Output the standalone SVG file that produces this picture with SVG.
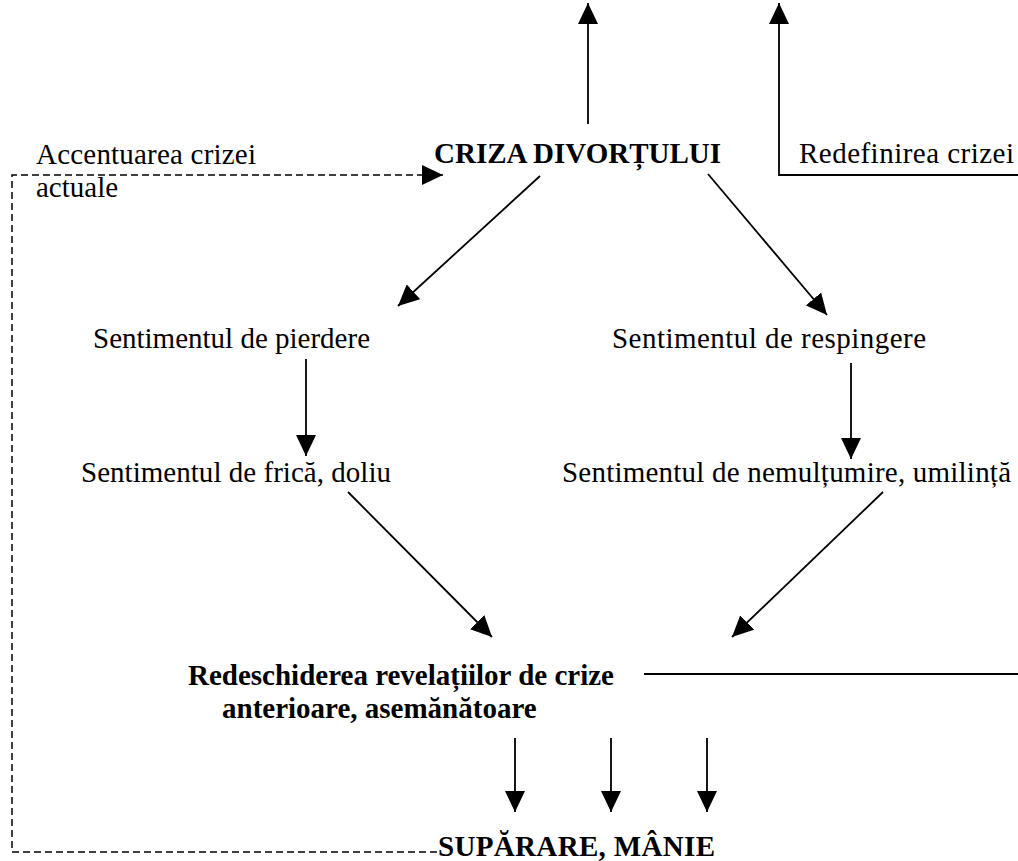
<svg xmlns="http://www.w3.org/2000/svg" width="1018" height="861" viewBox="0 0 1018 861">
<defs>
<marker id="ah" markerUnits="userSpaceOnUse" markerWidth="22" markerHeight="20" refX="21" refY="10" orient="auto">
<path d="M0,0 L21,10 L0,20 Z" fill="#000" stroke="none"/>
</marker>
<style>
text{font-family:"Liberation Serif","Times New Roman",serif;font-size:29px;fill:#000}
.b{font-weight:bold}
.ln{fill:none;stroke:#000;stroke-width:1.8}
.ar{marker-end:url(#ah)}
.ds{fill:none;stroke:#000;stroke-width:1.5;stroke-dasharray:7,4}
</style>
</defs>
<rect width="1018" height="861" fill="#fff"/>
<g id="connectors">
<line class="ln ar" x1="588" y1="124" x2="588" y2="3"/>
<path class="ln ar" d="M1018,175 H779 V3"/>
<path class="ds ar" d="M437,852 H12 V175 H443"/>
<line class="ln ar" x1="540" y1="176" x2="398" y2="306"/>
<line class="ln ar" x1="708" y1="174" x2="827" y2="315"/>
<line class="ln ar" x1="306" y1="359" x2="306" y2="456"/>
<line class="ln ar" x1="851" y1="363" x2="851" y2="459"/>
<line class="ln ar" x1="348" y1="492" x2="492" y2="637"/>
<line class="ln ar" x1="883" y1="492" x2="732" y2="637"/>
<line class="ln" x1="644" y1="674" x2="1018" y2="674"/>
<line class="ln ar" x1="515" y1="738" x2="515" y2="812"/>
<line class="ln ar" x1="611" y1="738" x2="611" y2="812"/>
<line class="ln ar" x1="707" y1="738" x2="707" y2="812"/>
</g>
<g id="accentuarea"><text x="36" y="164" textLength="220" lengthAdjust="spacing">Accentuarea crizei</text><text x="36" y="197">actuale</text></g>
<g id="criza"><text class="b" x="434" y="163">CRIZA DIVORȚULUI</text></g>
<g id="redefinirea"><text x="799" y="163" textLength="215" lengthAdjust="spacing">Redefinirea crizei</text></g>
<g id="pierdere"><text x="93" y="348">Sentimentul de pierdere</text></g>
<g id="respingere"><text x="612" y="348" textLength="314" lengthAdjust="spacing">Sentimentul de respingere</text></g>
<g id="frica"><text x="81" y="482" textLength="310" lengthAdjust="spacing">Sentimentul de frică, doliu</text></g>
<g id="nemultumire"><text x="562" y="482" textLength="449" lengthAdjust="spacing">Sentimentul de nemulțumire, umilință</text></g>
<g id="redeschiderea"><text class="b" x="188" y="685">Redeschiderea revelațiilor de crize</text><text class="b" x="222" y="718">anterioare, asemănătoare</text></g>
<g id="suparare"><text class="b" x="438" y="856" textLength="277" lengthAdjust="spacing">SUPĂRARE, MÂNIE</text></g>
</svg>
